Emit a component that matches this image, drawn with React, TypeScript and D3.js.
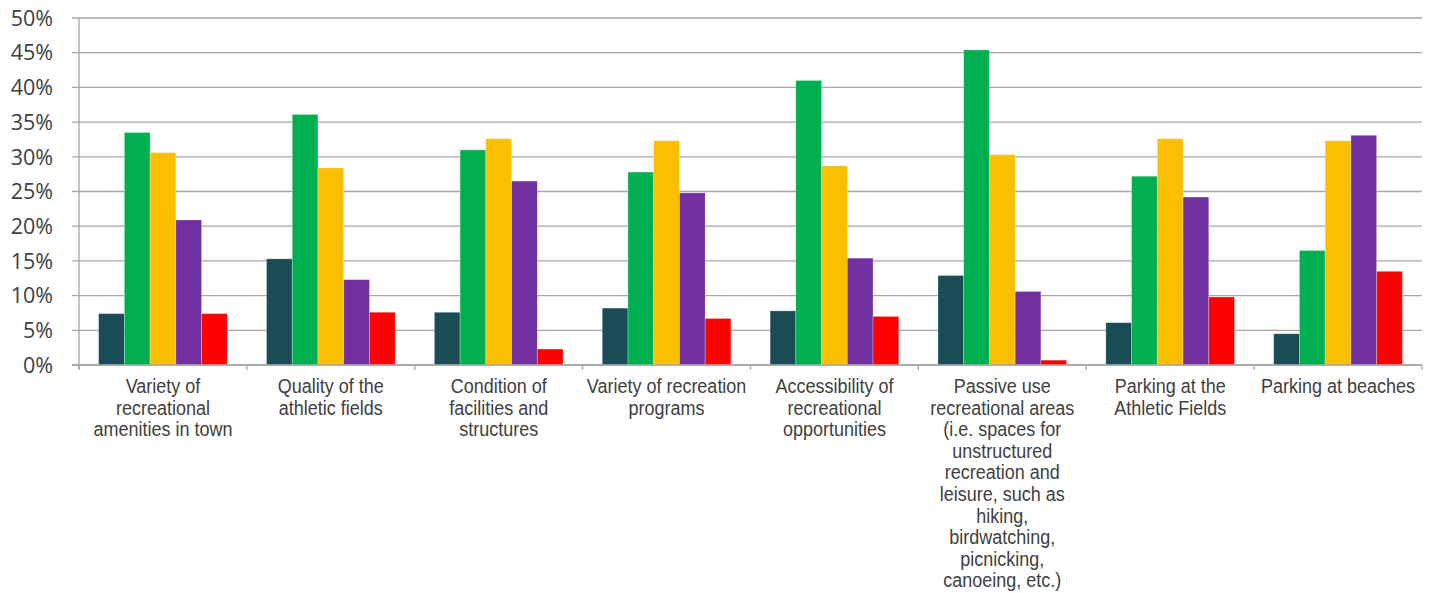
import React from "react";
import * as d3 from "d3";

const categories: string[] = [
  "Variety of\nrecreational\namenities in town",
  "Quality of the\nathletic fields",
  "Condition of\nfacilities and\nstructures",
  "Variety of recreation\nprograms",
  "Accessibility of\nrecreational\nopportunities",
  "Passive use\nrecreational areas\n(i.e. spaces for\nunstructured\nrecreation and\nleisure, such as\nhiking,\nbirdwatching,\npicnicking,\ncanoeing, etc.)",
  "Parking at the\nAthletic Fields",
  "Parking at beaches",
];

const seriesNames: string[] = ["Series 1", "Series 2", "Series 3", "Series 4", "Series 5"];
const seriesColors: string[] = ["#194C54", "#00AF50", "#F9BF00", "#7030A0", "#FF0000"];

const series1: number[] = [7.4, 15.3, 7.6, 8.2, 7.8, 12.9, 6.1, 4.5];
const series2: number[] = [33.5, 36.1, 31.0, 27.8, 41.0, 45.4, 27.2, 16.5];
const series3: number[] = [30.6, 28.4, 32.6, 32.3, 28.7, 30.3, 32.6, 32.3];
const series4: number[] = [20.9, 12.3, 26.5, 24.8, 15.4, 10.6, 24.2, 33.1];
const series5: number[] = [7.4, 7.6, 2.3, 6.7, 7.0, 0.7, 9.8, 13.5];

const yTicks: number[] = [0, 5, 10, 15, 20, 25, 30, 35, 40, 45, 50];

const allSeries = [series1, series2, series3, series4, series5];

export default function App() {
  const W = 1434;
  const H = 593;
  const left = 79;
  const right = 1422;
  const top = 18;
  const bottom = 365;

  const x0 = d3
    .scaleBand<number>()
    .domain(categories.map((_, i) => i))
    .range([left, right])
    .paddingInner(0.2336)
    .paddingOuter(0.117);
  const step = (right - left) / categories.length;
  const x1 = d3
    .scaleBand<number>()
    .domain(seriesNames.map((_, i) => i))
    .range([0, x0.bandwidth()])
    .padding(0);
  const y = d3.scaleLinear().domain([0, 50]).range([bottom, top]);

  const gridColor = "#A6A6A6";
  const textColor = "#404040";
  const sy = 1.1;

  return (
    <svg
      width={W}
      height={H}
      style={{ position: "absolute", left: 0, top: 0, background: "#fff" }}
    >
      {yTicks.map((t) => (
        <line
          key={"g" + t}
          x1={left - 7}
          x2={right}
          y1={y(t)}
          y2={y(t)}
          stroke={gridColor}
          strokeWidth={1.3}
        />
      ))}
      {yTicks.map((t) => (
        <text
          key={"yl" + t}
          x={53}
          y={y(t)}
          dy="0.36em"
          textAnchor="end"
          fontFamily="Open Sans"
          fontSize={21.5}
          fill={textColor}
        >
          {t + "%"}
        </text>
      ))}
      {categories.map((_, ci) =>
        allSeries.map((s, si) => (
          <rect
            key={ci + "-" + si}
            x={(x0(ci) as number) + (x1(si) as number)}
            y={y(s[ci])}
            width={x1.bandwidth()}
            height={bottom - y(s[ci])}
            fill={seriesColors[si]}
            stroke="#ffffff"
            strokeOpacity={0.35}
            strokeWidth={0.8}
          />
        ))
      )}
      <line x1={left} x2={left} y1={top} y2={bottom + 4} stroke={gridColor} strokeWidth={1.3} />
      <line x1={left - 7} x2={right} y1={bottom} y2={bottom} stroke={gridColor} strokeWidth={1.3} />
      {d3.range(categories.length + 1).map((i) => (
        <line
          key={"xt" + i}
          x1={left + i * step}
          x2={left + i * step}
          y1={bottom}
          y2={bottom + 5}
          stroke={gridColor}
          strokeWidth={1.3}
        />
      ))}
      {categories.map((c, ci) => {
        const cx = (x0(ci) as number) + x0.bandwidth() / 2;
        return (
          <g key={"cl" + ci} transform={`translate(${cx},393) scale(1,${sy})`}>
            <text
              x={0}
              y={0}
              textAnchor="middle"
              fontFamily="Liberation Sans, Arial, sans-serif"
              fontSize={18}
              fill={textColor}
            >
              {c.split("\n").map((line, li) => (
                <tspan key={li} x={0} dy={li === 0 ? 0 : 21.6 / sy}>
                  {line}
                </tspan>
              ))}
            </text>
          </g>
        );
      })}
    </svg>
  );
}
